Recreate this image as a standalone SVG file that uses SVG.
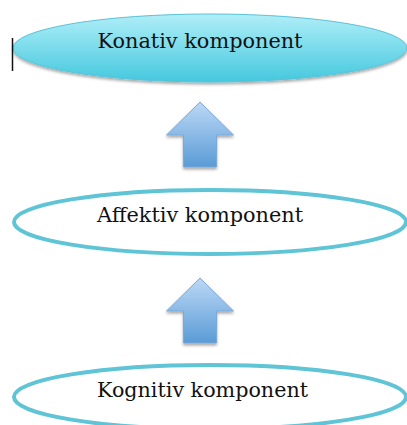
<svg xmlns="http://www.w3.org/2000/svg" width="407" height="425" viewBox="0 0 407 425">
<defs>
<linearGradient id="cyan" x1="0" y1="0" x2="0" y2="1">
<stop offset="0" stop-color="#b0eef8"/>
<stop offset="1" stop-color="#45c8de"/>
</linearGradient>
<linearGradient id="blue" x1="0" y1="0" x2="0" y2="1">
<stop offset="0" stop-color="#bcd9f6"/>
<stop offset="1" stop-color="#5a9bd6"/>
</linearGradient>
<filter id="sh" x="-20%" y="-20%" width="140%" height="150%">
<feDropShadow dx="0" dy="2" stdDeviation="1.5" flood-color="#000" flood-opacity="0.35"/>
</filter>
<path id="arrow" d="M200,0 L233.5,33 L216.5,33 L216.5,65 L183.5,65 L183.5,33 L166.5,33 Z"/>
</defs>
<style>
.lbl{font-family:"DejaVu Serif","Liberation Serif",serif;font-size:20px;fill:#111;text-anchor:middle}
.ring{fill:none;stroke:#5ec4d6;stroke-width:4}
.arr{fill:url(#blue);stroke:#7aa8d8;stroke-width:1;filter:url(#sh)}
</style>
<g id="konativ">
<ellipse cx="210" cy="48" rx="197" ry="34" fill="url(#cyan)" stroke="#5cc2d6" stroke-width="1" filter="url(#sh)"/>
<text class="lbl" x="200" y="48" textLength="205" lengthAdjust="spacingAndGlyphs">Konativ komponent</text>
</g>
<line x1="12.5" y1="38" x2="12.5" y2="71" stroke="#111" stroke-width="1.5"/>
<g id="affektiv">
<ellipse class="ring" cx="210" cy="222" rx="196" ry="32"/>
<text class="lbl" x="200" y="222" textLength="206" lengthAdjust="spacingAndGlyphs">Affektiv komponent</text>
</g>
<g id="kognitiv">
<ellipse class="ring" cx="210" cy="397" rx="196" ry="32"/>
<text class="lbl" x="202.5" y="397" textLength="211" lengthAdjust="spacingAndGlyphs">Kognitiv komponent</text>
</g>
<g id="connectors">
<use href="#arrow" class="arr" transform="translate(0,102)"/>
<use href="#arrow" class="arr" transform="translate(0,278)"/>
</g>
</svg>
